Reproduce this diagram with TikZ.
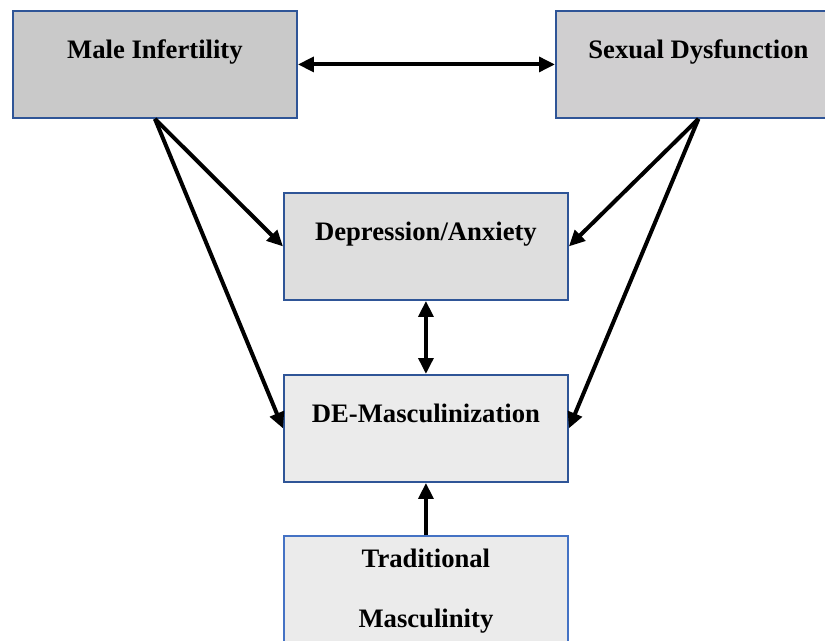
\documentclass[tikz,border=0pt]{standalone}
\usepackage{fontspec}
\setmainfont{Liberation Serif}
\usetikzlibrary{arrows.meta}

\definecolor{edgeblue}{HTML}{2F5597}
\definecolor{lightblue}{HTML}{4472C4}
\definecolor{darkgrey}{HTML}{C9C9C9}
\definecolor{sdgrey}{HTML}{D0CFD0}
\definecolor{midgrey}{HTML}{DEDEDE}
\definecolor{palegrey}{HTML}{EBEBEB}

\tikzset{
    factor/.style={rectangle, draw=edgeblue, line width=1.4pt, anchor=north west,
        inner sep=0pt, minimum width=213pt, text height=36pt, text depth=44.25pt,
        font=\fontsize{20}{45}\selectfont\bfseries, align=center},
    link/.style={line width=3pt, -{Triangle[length=12pt,width=11pt]}},
    twoway/.style={line width=3pt, {Triangle[length=12pt,width=11pt]}-{Triangle[length=12pt,width=11pt]}}
}

\begin{document}
\begin{tikzpicture}[x=0.75pt, y=-0.75pt]
    \useasboundingbox (0,0) rectangle (825,640);

    \node[factor, fill=darkgrey] (infert) at (12,10) {Male Infertility};
    \node[factor, fill=sdgrey, minimum width=213.75pt] (sexdys) at (555,10) {Sexual Dysfunction};
    \node[factor, fill=midgrey] (depr) at (283,192) {Depression/Anxiety};
    \node[factor, fill=palegrey] (demasc) at (283,374) {DE-Masculinization};
    \node[factor, fill=palegrey, draw=lightblue, text height=69pt, text depth=45pt]
        (tradm) at (283,535) {Traditional\\Masculinity};

    \draw[twoway] (infert.east) -- (sexdys.west);
    \draw[link] (infert.south) -- (depr.west);
    \draw[link] (infert.south) -- (demasc.west);
    \draw[link] (sexdys.south) -- (depr.east);
    \draw[link] (sexdys.south) -- (demasc.east);
    \draw[twoway] (depr.south) -- (demasc.north);
    \draw[link] (tradm.north) -- (demasc.south);
\end{tikzpicture}
\end{document}
